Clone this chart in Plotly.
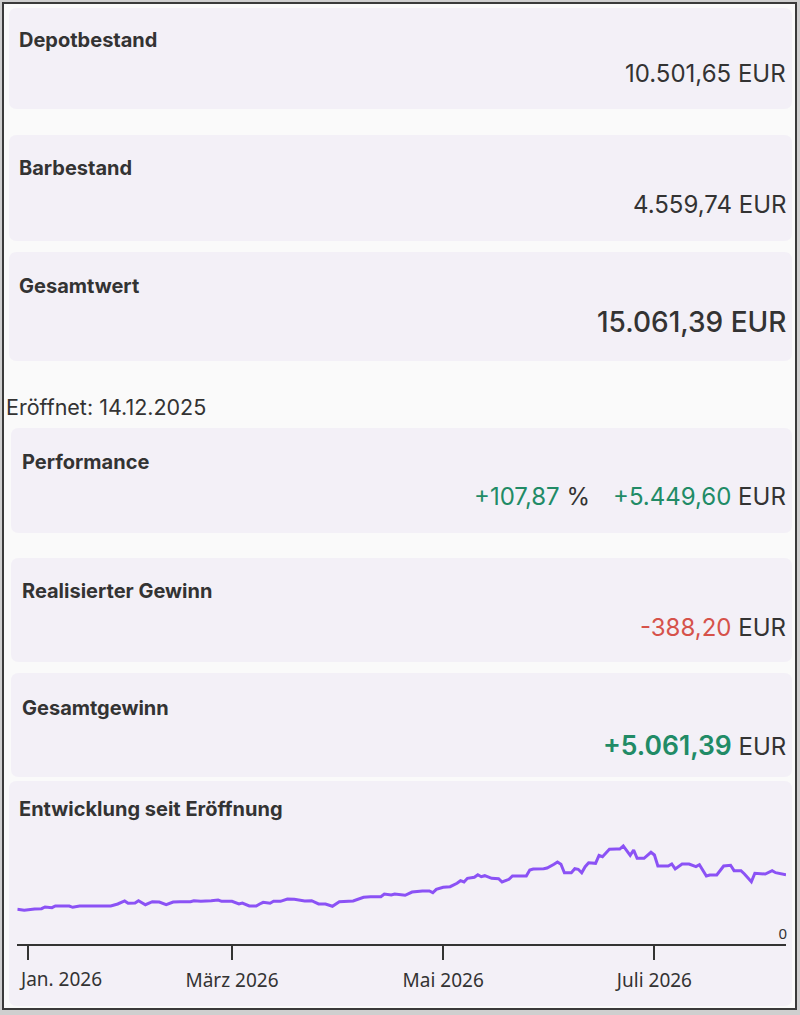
import plotly.graph_objects as go

W, H = 800, 1015

# Kennzahlen der Übersicht
depot_titel = "Depotbestand"
depot_wert = "10.501,65"
bar_titel = "Barbestand"
bar_wert = "4.559,74"
gesamt_titel = "Gesamtwert"
gesamt_wert = "15.061,39"
eroeffnet = "14.12.2025"
perf_titel = "Performance"
perf_prozent = "+107,87"
perf_wert = "+5.449,60"
real_titel = "Realisierter Gewinn"
real_wert = "-388,20"
gewinn_titel = "Gesamtgewinn"
gewinn_wert = "+5.061,39"
chart_titel = "Entwicklung seit Eröffnung"
waehrung = "EUR"

# Verlauf Gesamtwert
dates = [
    "2025-12-29", "2025-12-31", "2026-01-03", "2026-01-05", "2026-01-06", "2026-01-08",
    "2026-01-09", "2026-01-10", "2026-01-13", "2026-01-14", "2026-01-16", "2026-01-18",
    "2026-01-21", "2026-01-22", "2026-01-23", "2026-01-25", "2026-01-27", "2026-01-29",
    "2026-01-30", "2026-02-01", "2026-02-02", "2026-02-04", "2026-02-06", "2026-02-08",
    "2026-02-10", "2026-02-12", "2026-02-14", "2026-02-17", "2026-02-18", "2026-02-20",
    "2026-02-23", "2026-02-25", "2026-02-26", "2026-03-01", "2026-03-03", "2026-03-04",
    "2026-03-06", "2026-03-08", "2026-03-09", "2026-03-10", "2026-03-12", "2026-03-13",
    "2026-03-15", "2026-03-17", "2026-03-19", "2026-03-21", "2026-03-22", "2026-03-24",
    "2026-03-26", "2026-03-28", "2026-03-30", "2026-04-01", "2026-04-03", "2026-04-05",
    "2026-04-08", "2026-04-10", "2026-04-13", "2026-04-14", "2026-04-16", "2026-04-17",
    "2026-04-20", "2026-04-22", "2026-04-25", "2026-04-27", "2026-04-28", "2026-04-29",
    "2026-05-01", "2026-05-03", "2026-05-05", "2026-05-06", "2026-05-07", "2026-05-08",
    "2026-05-10", "2026-05-11", "2026-05-12", "2026-05-13", "2026-05-15", "2026-05-17",
    "2026-05-18", "2026-05-20", "2026-05-21", "2026-05-23", "2026-05-25", "2026-05-26",
    "2026-05-27", "2026-05-30", "2026-05-31", "2026-06-02", "2026-06-03", "2026-06-04",
    "2026-06-05", "2026-06-07", "2026-06-08", "2026-06-09", "2026-06-10", "2026-06-11",
    "2026-06-12", "2026-06-14", "2026-06-15", "2026-06-16", "2026-06-18", "2026-06-20",
    "2026-06-21", "2026-06-22", "2026-06-23", "2026-06-24", "2026-06-25", "2026-06-26",
    "2026-06-28", "2026-06-30", "2026-07-01", "2026-07-02", "2026-07-05", "2026-07-06",
    "2026-07-07", "2026-07-09", "2026-07-11", "2026-07-13", "2026-07-14", "2026-07-16",
    "2026-07-17", "2026-07-19", "2026-07-21", "2026-07-23", "2026-07-24", "2026-07-26",
    "2026-07-27", "2026-07-29", "2026-07-30", "2026-08-02", "2026-08-04", "2026-08-05",
    "2026-08-08",
]
values = [
    7540, 7330, 7610, 7670, 8040, 7890,
    8260, 8260, 8260, 7980, 8260, 8260,
    8260, 8410, 8260, 8260, 8700, 9350,
    8850, 8910, 9410, 8540, 9200, 9130,
    8540, 9130, 9200, 9200, 9410, 9280,
    9410, 9570, 9280, 9280, 8700, 8910,
    8260, 8260, 8700, 9070, 8850, 9280,
    9280, 9780, 9720, 9410, 9350, 9410,
    8700, 8700, 8200, 9200, 9200, 9350,
    10150, 10280, 10280, 10870, 10650, 10870,
    10590, 11300, 11520, 11520, 11150, 11890,
    12330, 12460, 13200, 13760, 13480, 14280,
    14500, 15070, 14630, 14850, 14280, 14200,
    13480, 14070, 14780, 14780, 14780, 16090,
    16310, 16370, 16520, 17330, 17830, 17330,
    15500, 15500, 16370, 16240, 15500, 16810,
    17670, 17540, 19280, 18980, 20590, 20650,
    20650, 21310, 20280, 19280, 20440, 18630,
    18630, 19940, 19350, 16960, 16960, 17390,
    16310, 17390, 17390, 16810, 17240, 14780,
    15000, 15000, 16960, 17110, 15940, 15940,
    15220, 13540, 15370, 15220, 15940, 15500,
    15061,
]
y_max = 22500
tick_dates = ["2026-01-01", "2026-03-01", "2026-05-01", "2026-07-01"]
tick_text = ["", "März 2026", "Mai 2026", "Juli 2026"]

TEXT = "#333333"
GREEN = "#218b66"
RED = "#d6524a"
CARD = "#f3f0f7"
PAGE = "#fafafa"
PURPLE = "#8b52f5"
FONT = "Inter"


def px(x):
    return x / W


def py(y):
    return 1 - y / H


def rrect(x0, y0, x1, y1, r=8):
    p = [
        f"M {px(x0 + r)},{py(y0)}",
        f"L {px(x1 - r)},{py(y0)}",
        f"Q {px(x1)},{py(y0)} {px(x1)},{py(y0 + r)}",
        f"L {px(x1)},{py(y1 - r)}",
        f"Q {px(x1)},{py(y1)} {px(x1 - r)},{py(y1)}",
        f"L {px(x0 + r)},{py(y1)}",
        f"Q {px(x0)},{py(y1)} {px(x0)},{py(y1 - r)}",
        f"L {px(x0)},{py(y0 + r)}",
        f"Q {px(x0)},{py(y0)} {px(x0 + r)},{py(y0)}",
        "Z",
    ]
    return dict(type="path", xref="paper", yref="paper", path=" ".join(p),
                fillcolor=CARD, line=dict(width=0), layer="below")


def label(text, x, y, size, anchor="left", weight=400, color=TEXT):
    return dict(text=text, x=px(x), y=py(y), xref="paper", yref="paper",
                xanchor=anchor, yanchor="middle", showarrow=False, borderpad=0,
                font=dict(family=FONT, size=size, color=color, weight=weight))


def colored(num, color, extra=""):
    return f"<span style='color:{color}{extra}'>{num}</span> {waehrung}"


fig = go.Figure()
fig.add_trace(go.Scatter(x=dates, y=values, mode="lines",
                         line=dict(color=PURPLE, width=3), hoverinfo="skip"))

shapes = [
    dict(type="rect", xref="paper", yref="paper", x0=px(3), x1=px(796), y0=py(1009), y1=py(3),
         fillcolor=PAGE, line=dict(color="#3a3a3a", width=2), layer="below"),
    rrect(9, 8, 792, 109),
    rrect(9, 135, 792, 241),
    rrect(9, 252, 792, 361),
    rrect(11, 428, 792, 533),
    rrect(11, 558, 792, 662),
    rrect(11, 673, 792, 777),
    rrect(9, 781, 792, 1006),
]

R = 787  # rechte Kante der Werte
ann = [
    label(f"<b>{depot_titel}</b>", 18, 40, 20),
    label(f"{depot_wert} {waehrung}", R, 74, 24, anchor="right"),
    label(f"<b>{bar_titel}</b>", 18, 168, 20),
    label(f"{bar_wert} {waehrung}", R, 204, 24, anchor="right"),
    label(f"<b>{gesamt_titel}</b>", 18, 286, 20),
    label(f"{gesamt_wert} {waehrung}", R, 322, 28, anchor="right", weight=500),
    label(f"Eröffnet: {eroeffnet}", 5, 407, 21.5),
    label(f"<b>{perf_titel}</b>", 21, 462, 20),
    label(f"<span style='color:{GREEN}'>{perf_prozent}</span> %", 591, 496, 24, anchor="right"),
    label(colored(perf_wert, GREEN), R, 496, 24, anchor="right"),
    label(f"<b>{real_titel}</b>", 21, 591, 20),
    label(colored(real_wert, RED), R, 627, 24, anchor="right"),
    label(f"<b>{gewinn_titel}</b>", 21, 708, 20),
    label(colored(gewinn_wert, GREEN, ";font-size:26.5px;font-weight:600"), R, 745, 24, anchor="right"),
    label(f"<b>{chart_titel}</b>", 18, 809, 20),
    dict(text="Jan. 2026", x=dates[0], xref="x", y=py(979), yref="paper",
         xanchor="left", yanchor="middle", showarrow=False, xshift=1, borderpad=0,
         font=dict(family="Noto Sans", size=19, color=TEXT)),
]

fig.update_layout(
    width=W, height=H,
    margin=dict(l=0, r=0, t=0, b=0),
    paper_bgcolor="#cfcfcf",
    plot_bgcolor="rgba(0,0,0,0)",
    showlegend=False,
    shapes=shapes,
    annotations=ann,
    xaxis=dict(
        domain=[px(17.3), px(786)], type="date", range=[dates[0], dates[-1]],
        tickvals=tick_dates, ticktext=tick_text,
        ticks="outside", ticklen=14, tickwidth=2, tickcolor=TEXT,
        showline=True, linecolor=TEXT, linewidth=2,
        showgrid=False, zeroline=False, fixedrange=True,
        tickfont=dict(family="Noto Sans", size=19, color=TEXT),
        ticklabelstandoff=4,
    ),
    yaxis=dict(
        domain=[py(944), py(840.5)], range=[0, y_max],
        tickvals=[0, y_max], ticktext=["0", ""],
        side="right", ticklabelposition="inside top", ticks="",
        showgrid=True, gridcolor="#bdbdbd", gridwidth=1,
        zeroline=False, showline=False, fixedrange=True,
        tickfont=dict(family="Noto Sans", size=15, color=TEXT),
        ticklabelstandoff=-4,
    ),
)

fig.write_html("out.html", config={"displayModeBar": False},
               post_script="document.body.style.margin='0';")
